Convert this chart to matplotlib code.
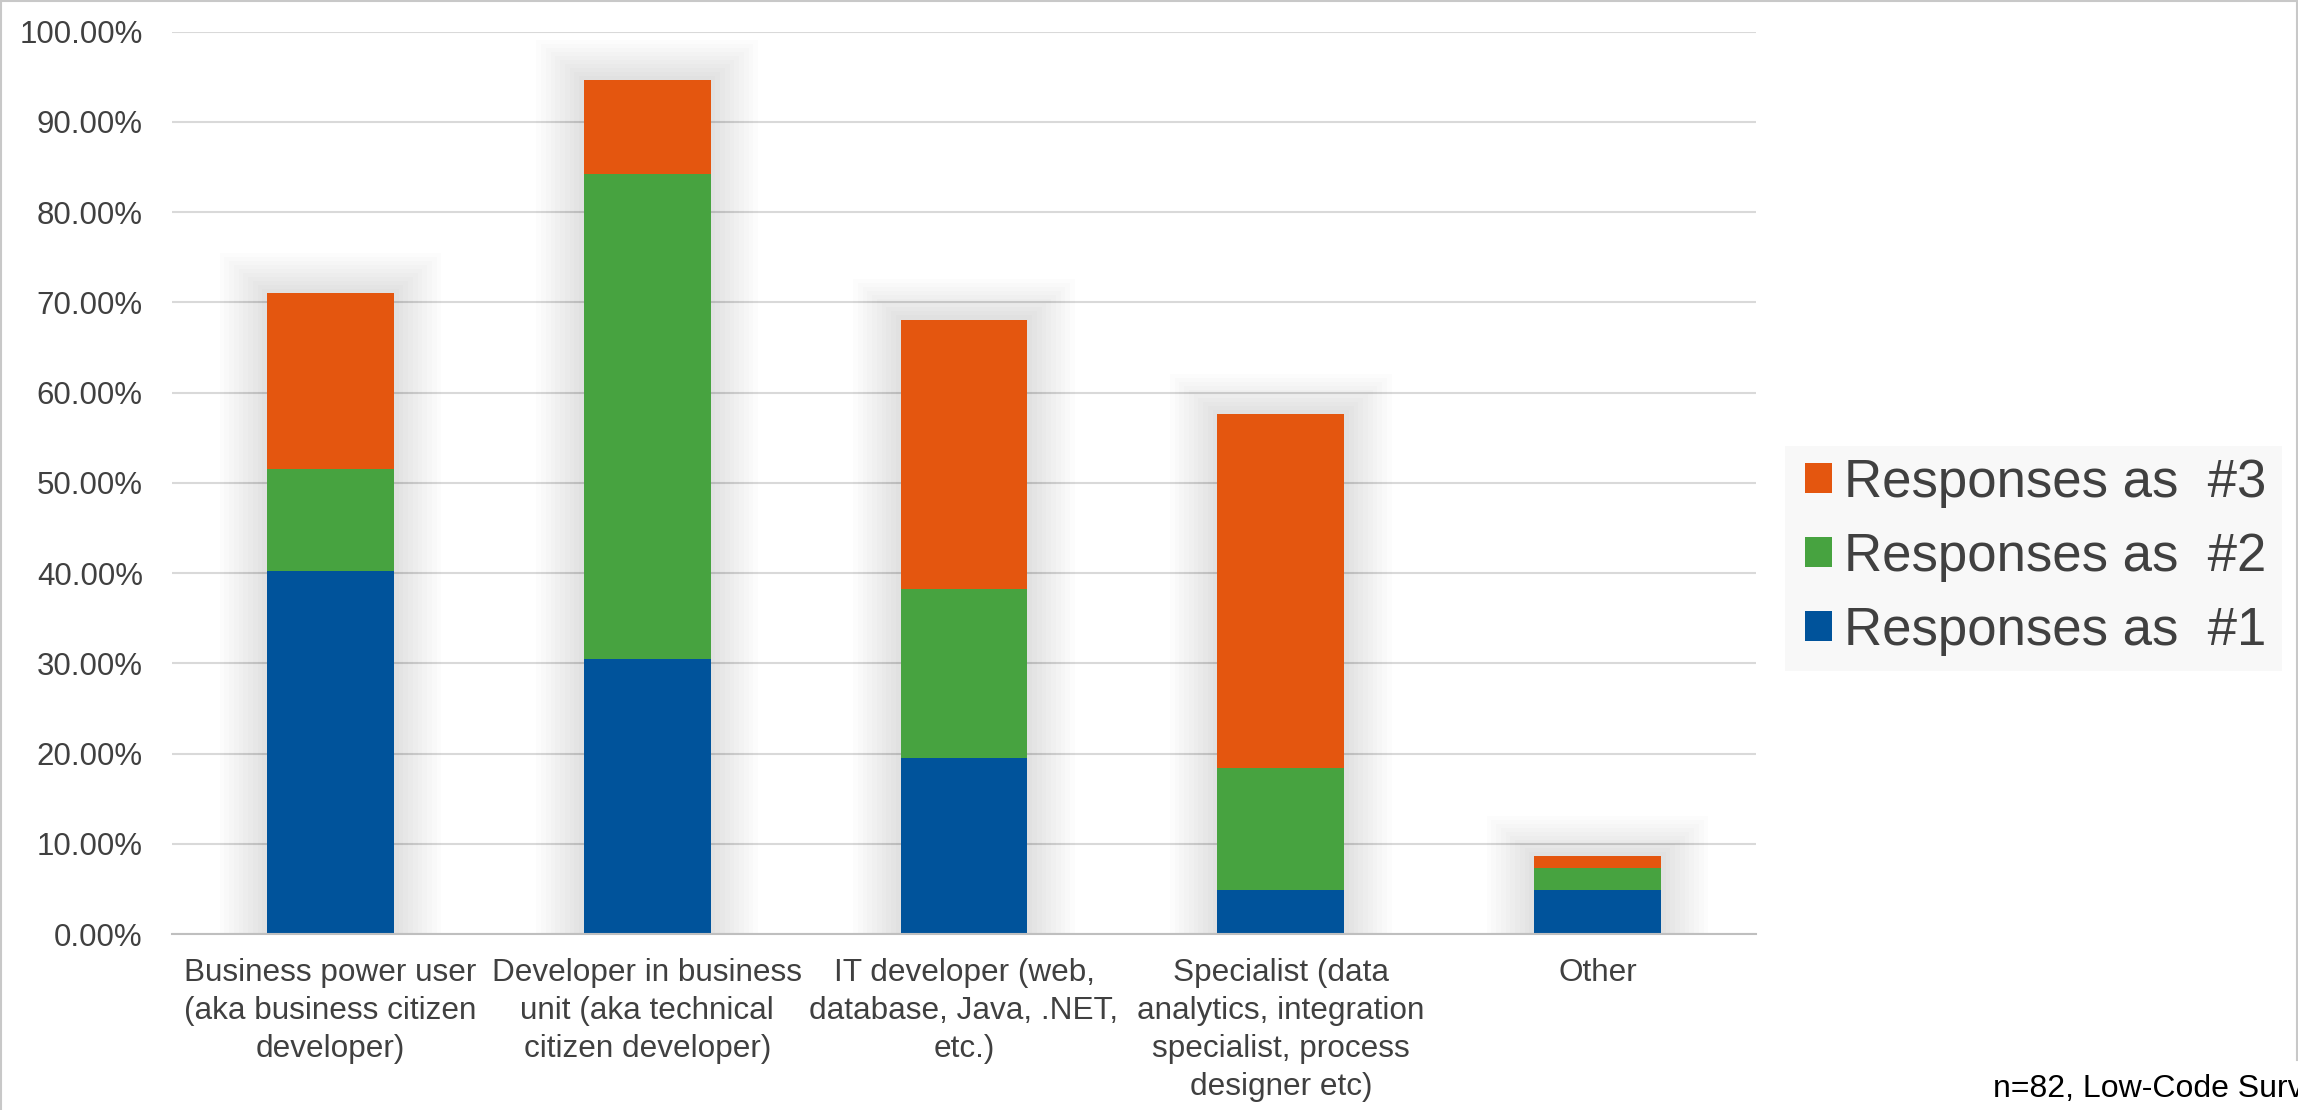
import numpy as np
import matplotlib
matplotlib.use("Agg")
import matplotlib.pyplot as plt
from matplotlib.patches import Rectangle
from matplotlib.lines import Line2D
from matplotlib.ticker import MultipleLocator, FuncFormatter

plt.rcParams['font.family'] = ['Liberation Sans', 'DejaVu Sans']

categories = [
    "Business power user\n(aka business citizen\ndeveloper)",
    "Developer in business\nunit (aka technical\ncitizen developer)",
    "IT developer (web,\ndatabase, Java, .NET,\netc.)",
    "Specialist (data\nanalytics, integration\nspecialist, process\ndesigner etc)",
    "Other",
]
resp1 = [40.2, 30.5, 19.5, 4.9, 4.9]
resp2 = [11.3, 53.7, 18.7, 13.5, 2.4]
resp3 = [19.5, 10.4, 29.9, 39.2, 1.3]
series_labels = ["Responses as  #1", "Responses as  #2", "Responses as  #3"]
colors = ["#00539B", "#47A340", "#E4560F"]
note = "n=82, Low-Code Survey"

W, H = 2298, 1110
fig = plt.figure(figsize=(W / 100, H / 100), dpi=100)
ax = fig.add_axes([172 / W, (H - 934) / H, (1756 - 172) / W, (934 - 31.7) / H])

x = np.arange(len(categories))
r1 = np.array(resp1)
r2 = np.array(resp2)
r3 = np.array(resp3)
totals = r1 + r2 + r3

# soft shadow behind bars
for k in range(1, 11):
    ax.bar(x, totals + k * 0.45, width=0.4 + k * 0.03, color="#000000",
           alpha=0.013, linewidth=0, zorder=1)

b1 = ax.bar(x, r1, width=0.4, color=colors[0], zorder=3, linewidth=0)
b2 = ax.bar(x, r2, width=0.4, bottom=r1, color=colors[1], zorder=3, linewidth=0)
b3 = ax.bar(x, r3, width=0.4, bottom=r1 + r2, color=colors[2], zorder=3, linewidth=0)

ax.set_xlim(-0.5, len(categories) - 0.5)
ax.set_ylim(0, 100)
ax.yaxis.set_major_locator(MultipleLocator(10))
ax.yaxis.set_major_formatter(FuncFormatter(lambda v, p: f"{v:.2f}%"))
ax.set_xticks(x)
ax.set_xticklabels(categories, fontsize=22.7, color="#404040", linespacing=1.36)
ax.tick_params(axis="x", length=0, pad=17)
ax.tick_params(axis="y", length=0, pad=21, labelsize=22.5, labelcolor="#404040")
ax.grid(axis="y", color="#d9d9d9", linewidth=1.5, zorder=0)
ax.set_axisbelow(True)
for s in ["top", "right", "left"]:
    ax.spines[s].set_visible(False)
ax.spines["bottom"].set_color("#bfbfbf")
ax.spines["bottom"].set_linewidth(1.5)
ax.spines["bottom"].set_zorder(4)

# legend background
fig.patches.append(Rectangle((1785 / W, (H - 671) / H), (2282 - 1785) / W, (671 - 446) / H,
                             transform=fig.transFigure, facecolor="#f8f8f8",
                             edgecolor="none", zorder=0))
leg = fig.legend([b3, b2, b1], [series_labels[2], series_labels[1], series_labels[0]],
                 loc="upper left", bbox_to_anchor=(1805 / W, 1 - 458 / H),
                 frameon=False, fontsize=38, borderpad=0, borderaxespad=0,
                 handlelength=0.51, handleheight=0.51, handletextpad=0.22,
                 labelspacing=0.45, labelcolor="#404040")

# figure border
bc = "#c8c8c8"
fig.lines.append(Line2D([1 / W, 1 / W], [0, 1], transform=fig.transFigure, color=bc, lw=1.5))
fig.lines.append(Line2D([0, 1], [1 - 1 / H, 1 - 1 / H], transform=fig.transFigure, color=bc, lw=1.5))
fig.lines.append(Line2D([1 - 1.5 / W, 1 - 1.5 / W], [1, (H - 1060) / H], transform=fig.transFigure, color=bc, lw=1.5))

fig.text(1993 / W, (H - 1097) / H, note, fontsize=23, color="black",
         ha="left", va="baseline")

fig.savefig("out.png", dpi=100, facecolor="white")
